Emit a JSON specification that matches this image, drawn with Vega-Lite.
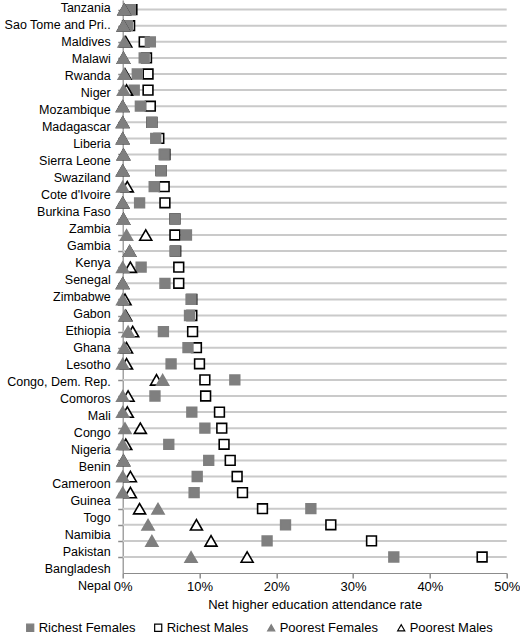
{
  "$schema": "https://vega.github.io/schema/vega-lite/v6.json",
  "width": 384,
  "height": 573,
  "autosize": {"type": "none"},
  "padding": {"left": 122.7, "top": 0, "right": 13.3, "bottom": 65},
  "background": "white",
  "config": {"view": {"stroke": null}, "font": "Liberation Sans"},
  "data": {
    "values": [
      {"country": "Tanzania", "Richest Females": 0.010, "Richest Males": 0.012, "Poorest Females": 0.002, "Poorest Males": 0.002},
      {"country": "Sao Tome and Pri..", "Richest Females": 0.006, "Richest Males": 0.009, "Poorest Females": 0.001, "Poorest Males": 0.001},
      {"country": "Maldives", "Richest Females": 0.036, "Richest Males": 0.028, "Poorest Females": 0.002, "Poorest Males": 0.004},
      {"country": "Malawi", "Richest Females": 0.028, "Richest Males": 0.031, "Poorest Females": 0.001, "Poorest Males": 0.001},
      {"country": "Rwanda", "Richest Females": 0.019, "Richest Males": 0.033, "Poorest Females": 0.002, "Poorest Males": 0.003},
      {"country": "Niger", "Richest Females": 0.015, "Richest Males": 0.033, "Poorest Females": 0.001, "Poorest Males": 0.005},
      {"country": "Mozambique", "Richest Females": 0.023, "Richest Males": 0.036, "Poorest Females": 0.0, "Poorest Males": 0.0},
      {"country": "Madagascar", "Richest Females": 0.038, "Richest Males": 0.038, "Poorest Females": 0.0, "Poorest Males": 0.0},
      {"country": "Liberia", "Richest Females": 0.043, "Richest Males": 0.047, "Poorest Females": 0.0, "Poorest Males": 0.0},
      {"country": "Sierra Leone", "Richest Females": 0.054, "Richest Males": 0.055, "Poorest Females": 0.001, "Poorest Males": 0.001},
      {"country": "Swaziland", "Richest Females": 0.050, "Richest Males": 0.050, "Poorest Females": 0.0, "Poorest Males": 0.0},
      {"country": "Cote d'Ivoire", "Richest Females": 0.041, "Richest Males": 0.054, "Poorest Females": 0.0, "Poorest Males": 0.006},
      {"country": "Burkina Faso", "Richest Females": 0.022, "Richest Males": 0.055, "Poorest Females": 0.0, "Poorest Males": 0.0},
      {"country": "Zambia", "Richest Females": 0.068, "Richest Males": 0.068, "Poorest Females": 0.001, "Poorest Males": 0.001},
      {"country": "Gambia", "Richest Females": 0.083, "Richest Males": 0.068, "Poorest Females": 0.005, "Poorest Males": 0.030},
      {"country": "Kenya", "Richest Females": 0.068, "Richest Males": 0.069, "Poorest Females": 0.009, "Poorest Males": 0.009},
      {"country": "Senegal", "Richest Females": 0.024, "Richest Males": 0.073, "Poorest Females": 0.0, "Poorest Males": 0.010},
      {"country": "Zimbabwe", "Richest Females": 0.055, "Richest Males": 0.073, "Poorest Females": 0.0, "Poorest Males": 0.0},
      {"country": "Gabon", "Richest Females": 0.089, "Richest Males": 0.090, "Poorest Females": 0.0, "Poorest Males": 0.003},
      {"country": "Ethiopia", "Richest Females": 0.087, "Richest Males": 0.090, "Poorest Females": 0.003, "Poorest Males": 0.004},
      {"country": "Ghana", "Richest Females": 0.053, "Richest Males": 0.091, "Poorest Females": 0.007, "Poorest Males": 0.013},
      {"country": "Lesotho", "Richest Females": 0.085, "Richest Males": 0.096, "Poorest Females": 0.002, "Poorest Males": 0.005},
      {"country": "Congo, Dem. Rep.", "Richest Females": 0.063, "Richest Males": 0.100, "Poorest Females": 0.0, "Poorest Males": 0.005},
      {"country": "Comoros", "Richest Females": 0.146, "Richest Males": 0.107, "Poorest Females": 0.052, "Poorest Males": 0.044},
      {"country": "Mali", "Richest Females": 0.042, "Richest Males": 0.108, "Poorest Females": 0.0, "Poorest Males": 0.007},
      {"country": "Congo", "Richest Females": 0.090, "Richest Males": 0.126, "Poorest Females": 0.0, "Poorest Males": 0.006},
      {"country": "Nigeria", "Richest Females": 0.107, "Richest Males": 0.129, "Poorest Females": 0.003, "Poorest Males": 0.023},
      {"country": "Benin", "Richest Females": 0.060, "Richest Males": 0.132, "Poorest Females": 0.0, "Poorest Males": 0.004},
      {"country": "Cameroon", "Richest Females": 0.112, "Richest Males": 0.140, "Poorest Females": 0.001, "Poorest Males": 0.001},
      {"country": "Guinea", "Richest Females": 0.097, "Richest Males": 0.149, "Poorest Females": 0.0, "Poorest Males": 0.010},
      {"country": "Togo", "Richest Females": 0.093, "Richest Males": 0.156, "Poorest Females": 0.0, "Poorest Males": 0.010},
      {"country": "Namibia", "Richest Females": 0.245, "Richest Males": 0.182, "Poorest Females": 0.046, "Poorest Males": 0.022},
      {"country": "Pakistan", "Richest Females": 0.212, "Richest Males": 0.271, "Poorest Females": 0.033, "Poorest Males": 0.096},
      {"country": "Bangladesh", "Richest Females": 0.188, "Richest Males": 0.324, "Poorest Females": 0.038, "Poorest Males": 0.115},
      {"country": "Nepal", "Richest Females": 0.353, "Richest Males": 0.468, "Poorest Females": 0.089, "Poorest Males": 0.162}
    ]
  },
  "layer": [
    {
      "encoding": {
        "y": {
          "field": "country", "type": "nominal", "sort": null,
          "scale": {"type": "point", "padding": 0.795, "align": 0.375},
          "axis": {"labels": false, "title": null, "grid": false,
                   "domainColor": "#8c8c8c", "domainWidth": 1.2, "tickColor": "#8c8c8c", "tickSize": 5, "tickWidth": 1.5}
        }
      },
      "layer": [
        {
          "mark": {"type": "rule", "color": "#cacaca", "strokeWidth": 2},
          "encoding": {"x": {"datum": 0}, "x2": {"datum": 0.5}}
        },
        {
          "transform": [{"fold": ["Richest Males", "Richest Females"], "as": ["series", "value"]}],
          "mark": {"type": "point", "filled": true, "strokeWidth": 1.6, "opacity": 1, "size": 95},
          "encoding": {
            "x": {
              "field": "value", "type": "quantitative",
              "scale": {"domain": [0, 0.5], "nice": false, "zero": true},
              "axis": {"format": ".0%", "values": [0, 0.1, 0.2, 0.3, 0.4, 0.5], "grid": false,
                       "title": "Net higher education attendance rate",
                       "titleFontSize": 13, "titleFontWeight": "normal", "titleColor": "#000000", "titlePadding": 5,
                       "labelFontSize": 13, "labelColor": "#000000", "labelPadding": 2, "labelFlush": false,
                       "domainColor": "#8c8c8c", "domainWidth": 1.2, "tickColor": "#8c8c8c", "tickSize": 5, "tickWidth": 1.5}
            },
            "shape": {
              "field": "series", "type": "nominal",
              "scale": {"domain": ["Richest Females", "Richest Males", "Poorest Females", "Poorest Males"],
                        "range": ["square", "square", "triangle-up", "triangle-up"]},
              "legend": {"orient": "none", "legendX": -99, "legendY": 621, "direction": "horizontal", "title": null,
                         "labelFontSize": 13, "labelColor": "#000000", "symbolSize": 50, "symbolStrokeWidth": 1.2,
                         "columnPadding": 16, "labelOffset": 2}
            },
            "fill": {
              "field": "series", "type": "nominal",
              "scale": {"domain": ["Richest Females", "Richest Males", "Poorest Females", "Poorest Males"],
                        "range": ["#7f7f7f", "#ffffff", "#7f7f7f", "#ffffff"]}
            },
            "stroke": {
              "field": "series", "type": "nominal",
              "scale": {"domain": ["Richest Females", "Richest Males", "Poorest Females", "Poorest Males"],
                        "range": ["#7f7f7f", "#000000", "#7f7f7f", "#000000"]}
            }
          }
        },
        {
          "transform": [{"fold": ["Poorest Males", "Poorest Females"], "as": ["series", "value"]}],
          "mark": {"type": "point", "filled": true, "strokeWidth": 1.6, "opacity": 1, "size": 144},
          "encoding": {
            "x": {"field": "value", "type": "quantitative"},
            "shape": {"field": "series", "type": "nominal"},
            "fill": {"field": "series", "type": "nominal"},
            "stroke": {"field": "series", "type": "nominal"}
          }
        }
      ]
    },
    {
      "mark": {"type": "text", "align": "right", "baseline": "middle", "dx": -12, "fontSize": 12.5, "color": "#000000"},
      "encoding": {
        "y": {"field": "country", "type": "nominal", "sort": null,
              "scale": {"type": "point", "range": [8, 586], "padding": 0}, "axis": null},
        "x": {"datum": 0},
        "text": {"field": "country"}
      }
    }
  ],
  "resolve": {"scale": {"y": "independent"}}
}
